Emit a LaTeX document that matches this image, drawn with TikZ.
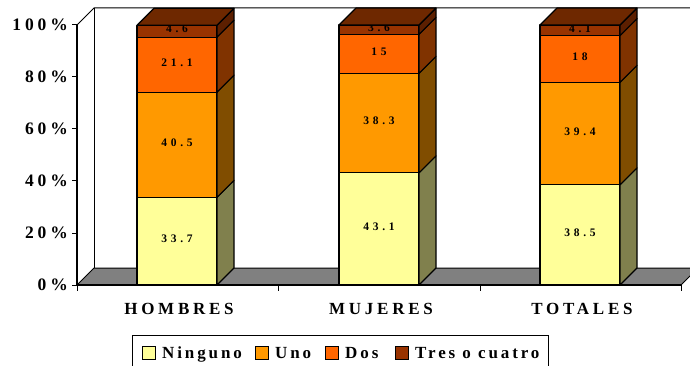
\documentclass[tikz,border=0pt]{standalone}
\usepackage{fontspec}
\setmainfont{Liberation Serif}
\newfontfamily\chartfont[LetterSpace=22]{Liberation Serif}
\newfontfamily\legfont[LetterSpace=17]{Liberation Serif}
\newfontfamily\valfont[LetterSpace=32]{Liberation Serif}
\usetikzlibrary{positioning,calc}

\definecolor{ninguno}{HTML}{FFFF99}
\definecolor{ningunoside}{HTML}{80804D}
\definecolor{uno}{HTML}{FF9900}
\definecolor{unoside}{HTML}{804D00}
\definecolor{dos}{HTML}{FF6600}
\definecolor{dosside}{HTML}{803300}
\definecolor{tres}{HTML}{993300}
\definecolor{tresside}{HTML}{5C1F00}
\definecolor{trestop}{HTML}{6E2800}
\definecolor{floorgray}{HTML}{808080}

\tikzset{
  edge/.style={draw=black, line width=1.1pt, line join=round},
  axislabel/.style={font=\chartfont\bfseries\fontsize{17.5}{17.5}\selectfont, anchor=east, inner sep=0pt},
  catlabel/.style={font=\chartfont\bfseries\fontsize{17}{17}\selectfont, inner sep=0pt},
  vallabel/.style={font=\valfont\bfseries\fontsize{11.5}{11.5}\selectfont, inner sep=0pt},
  legbox/.style={draw=black, line width=1pt, minimum size=13pt, inner sep=0pt},
  legtext/.style={font=\legfont\bfseries\fontsize{17}{17}\selectfont, inner sep=0pt, anchor=base west},
}

% one slice of a bar: x centre, lower y, upper y, front colour, side colour, value
\newcommand\barslice[7]{%
  \path[edge, fill=#4] ({#1-40},#2) rectangle ({#1+40},#3);
  \path[edge, fill=#5] ({#1+40},#2) -- ({#1+57},{#2-17}) -- ({#1+57},{#3-17}) -- ({#1+40},#3) -- cycle;
  \node[vallabel] (#7) at (#1,{(#2+#3)/2-2}) {#6};
}

\begin{document}
\begin{tikzpicture}[x=1pt,y=-1pt]
  \useasboundingbox (0,0) rectangle (690,366);

  % walls and floor
  \draw[line width=1pt] (77,25) -- (94,8) -- (700,8);
  \draw[line width=1pt] (94,8) -- (94,268);
  \draw[line width=1pt, fill=floorgray] (77,285) -- (94,268) -- (698,268) -- (681,285) -- cycle;
  \draw[line width=1.2pt] (77,25) -- (77,285) -- (681,285);

  % value axis
  \foreach \p in {0,20,...,100}{
    \draw[line width=1pt] (72,{285-2.6*\p}) -- (77,{285-2.6*\p});
    \node[axislabel] (ax-\p) at (68,{285-2.6*\p}) {\p\%};
  }
  \foreach \x in {77,278,480,681}
    \draw[line width=1pt] (\x,285) -- (\x,291);

  % bars
  \foreach \cx/\a/\b/\c/\d/\cat in {177/33.7/40.5/21.1/4.6/HOMBRES,
                                    379/43.1/38.3/15/3.6/MUJERES,
                                    580/38.5/39.4/18/4.1/TOTALES}{
    \pgfmathsetmacro\ya{285-2.6*\a}
    \pgfmathsetmacro\yb{\ya-2.6*\b}
    \pgfmathsetmacro\yc{\yb-2.6*\c}
    \pgfmathsetmacro\yd{\yc-2.6*\d}
    \barslice{\cx}{285}{\ya}{ninguno}{ningunoside}{\a}{\cat-a}
    \barslice{\cx}{\ya}{\yb}{uno}{unoside}{\b}{\cat-b}
    \barslice{\cx}{\yb}{\yc}{dos}{dosside}{\c}{\cat-c}
    \barslice{\cx}{\yc}{\yd}{tres}{tresside}{\d}{\cat-d}
    \path[edge, fill=trestop] ({\cx-40},\yd) -- ({\cx-23},{\yd-17}) -- ({\cx+57},{\yd-17}) -- ({\cx+40},\yd) -- cycle;
    \node[catlabel] (cat-\cat) at ({\cx+2},309) {\cat};
  }

  % legend
  \draw[line width=1pt] (132,335) rectangle (548,375);
  \node[legbox, fill=ninguno] (lg-ninguno) at (149,353) {};
  \node[legtext] (tx-ninguno) at ($(lg-ninguno.east)+(6,5.5)$) {Ninguno};
  \node[legbox, fill=uno] (lg-uno) at (262,353) {};
  \node[legtext] (tx-uno) at ($(lg-uno.east)+(6,5.5)$) {Uno};
  \node[legbox, fill=dos] (lg-dos) at (332,353) {};
  \node[legtext] (tx-dos) at ($(lg-dos.east)+(6,5.5)$) {Dos};
  \node[legbox, fill=tres] (lg-tres) at (402,353) {};
  \node[legtext] (tx-tres) at ($(lg-tres.east)+(6,5.5)$) {Tres o cuatro};
\end{tikzpicture}
\end{document}
